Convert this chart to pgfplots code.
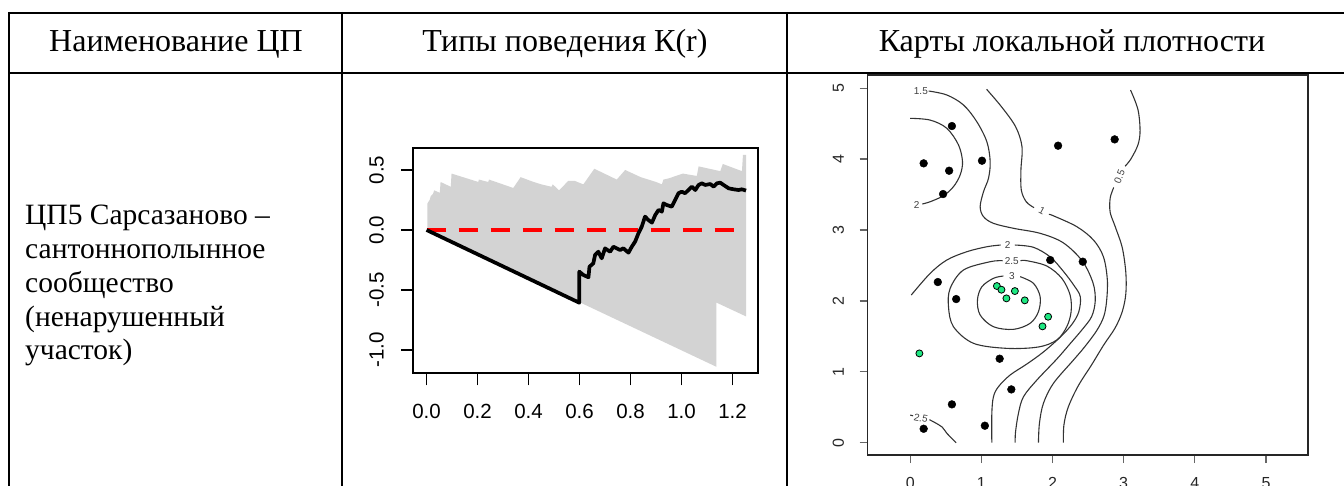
\documentclass[border=0pt]{standalone}
\usepackage{fontspec}
\setmainfont{Liberation Serif}
\newfontfamily\sansf{Liberation Sans}
\usepackage{pgfplots}
\pgfplotsset{compat=1.18}
\definecolor{envgray}{HTML}{D3D3D3}
\definecolor{ptgreen}{HTML}{1EE882}
\begin{document}
\begin{tikzpicture}[x=1pt,y=1pt]
% ---- table rules
\draw[line width=2pt] (8,-13) -- (1344,-13);
\draw[line width=1.6pt] (8,-73) -- (1344,-73);
\draw[line width=1.6pt] (9,-12) -- (9,-486);
\draw[line width=1.6pt] (342,-12) -- (342,-486);
\draw[line width=1.6pt] (787,-12) -- (787,-486);
% ---- header texts
\node[anchor=base, inner sep=0, font=\fontsize{32}{32}\selectfont] at (176,-52) {Наименование ЦП};
\node[anchor=base, inner sep=0, font=\fontsize{32}{32}\selectfont] at (565,-52) {Типы поведения К(r)};
\node[anchor=base, inner sep=0, font=\fontsize{32}{32}\selectfont] at (1072,-52) {Карты локальной плотности};
% ---- left cell
\node[anchor=base west, inner sep=0, font=\fontsize{29.5}{29.5}\selectfont] at (25,-225) {ЦП5 Сарсазаново –};
\node[anchor=base west, inner sep=0, font=\fontsize{29.5}{29.5}\selectfont] at (25,-258.7) {сантоннополынное};
\node[anchor=base west, inner sep=0, font=\fontsize{29.5}{29.5}\selectfont] at (25,-292.4) {сообщество};
\node[anchor=base west, inner sep=0, font=\fontsize{29.5}{29.5}\selectfont] at (25,-326.1) {(ненарушенный};
\node[anchor=base west, inner sep=0, font=\fontsize{29.5}{29.5}\selectfont] at (25,-359.8) {участок)};

% ---- K(r) plot
\begin{axis}[at={(413.3pt,-373.3pt)}, anchor=south west,
  width=344.7pt, height=225.3pt, scale only axis,
  xmin=-0.052, xmax=1.300, ymin=-1.194, ymax=0.683,
  axis line style={line width=1.8pt},
  tick style={line width=1.8pt, black},
  tick align=outside, major tick length=12pt, tick pos=left,
  xtick={0,0.2,0.4,0.6,0.8,1.0,1.2},
  xticklabels={0.0,0.2,0.4,0.6,0.8,1.0,1.2},
  ytick={-1,-0.5,0,0.5},
  yticklabels={-1.0,-0.5,0.0,0.5},
  ticklabel style={font=\sansf\fontsize{20.5}{20.5}\selectfont},
  yticklabel style={rotate=90, anchor=south},
  xticklabel style={anchor=north},
  xticklabel shift=15pt, yticklabel shift=14pt,
]
\addplot[fill=envgray, draw=none] coordinates {
(0.003,0.0) (0.003,0.22) (0.012,0.25) (0.016,0.28) (0.025,0.30) (0.030,0.33)
(0.052,0.31) (0.055,0.40) (0.095,0.36) (0.098,0.47) (0.203,0.40) (0.205,0.42)
(0.242,0.40) (0.245,0.42) (0.340,0.35) (0.369,0.44) (0.420,0.40) (0.450,0.38)
(0.490,0.36) (0.495,0.38) (0.520,0.33) (0.556,0.41) (0.580,0.41) (0.615,0.38)
(0.658,0.51) (0.746,0.42) (0.779,0.50) (0.840,0.44) (0.900,0.40) (0.923,0.38)
(0.929,0.42) (0.950,0.43) (1.005,0.47) (1.060,0.45) (1.067,0.53) (1.152,0.49)
(1.162,0.55) (1.237,0.49) (1.241,0.625) (1.253,0.625)
(1.253,-0.72) (1.137,-0.605) (1.137,-1.14) (0.003,-0.003)
} -- cycle;
\addplot[red, line width=3.5pt, dash pattern=on 19pt off 13pt] coordinates {(0,0) (1.253,0)};
\addplot[black, line width=3.7pt, line join=round] coordinates {
(0,0) (0.599,-0.606) (0.599,-0.347) (0.615,-0.375) (0.635,-0.394) (0.639,-0.306)
(0.654,-0.278) (0.661,-0.208) (0.674,-0.181) (0.687,-0.236) (0.700,-0.153)
(0.720,-0.181) (0.733,-0.139) (0.759,-0.167) (0.772,-0.153) (0.792,-0.189)
(0.805,-0.139) (0.818,-0.097) (0.831,-0.028) (0.844,0.028) (0.857,0.111)
(0.870,0.083) (0.884,0.061) (0.897,0.125) (0.910,0.167) (0.923,0.153)
(0.929,0.222) (0.942,0.208) (0.962,0.194) (0.975,0.250) (0.988,0.306)
(1.001,0.319) (1.014,0.306) (1.027,0.333) (1.041,0.361) (1.054,0.333)
(1.067,0.375) (1.080,0.389) (1.093,0.375) (1.113,0.383) (1.126,0.361)
(1.139,0.389) (1.152,0.394) (1.165,0.375) (1.185,0.347) (1.204,0.339)
(1.224,0.333) (1.237,0.339) (1.253,0.328)
};
\end{axis}

% ---- density map
\begin{axis}[at={(867.5pt,-455pt)}, anchor=south west,
  width=440.5pt, height=380pt, scale only axis,
  xmin=-0.6, xmax=5.59, ymin=-0.173, ymax=5.186,
  axis line style={line width=1.2pt, black!85},
  tick style={line width=1.2pt, black!60},
  tick align=outside, major tick length=8pt, tick pos=left,
  xtick={0,1,2,3,4,5}, ytick={0,1,2,3,4,5},
  xticklabels={0,1,2,3,4,5}, yticklabels={0,1,2,3,4,5},
  ticklabel style={font=\sansf\fontsize{16}{16}\selectfont, text=black!85},
  yticklabel style={rotate=90, anchor=south},
  xticklabel style={anchor=north},
  xticklabel shift=11pt, yticklabel shift=12pt,
]
\pgfplotsset{cont/.style={black!80, line width=1.1pt, smooth, tension=0.55}}
\addplot[cont] coordinates {(0.0,4.575) (0.281,4.55) (0.515,4.434) (0.679,4.199) (0.735,3.963) (0.702,3.776) (0.608,3.611) (0.468,3.484) (0.281,3.399) (0.17,3.367)};
\addplot[cont] coordinates {(0.26,4.96) (0.515,4.904) (0.749,4.763) (0.936,4.527) (1.077,4.245) (1.124,3.963) (1.1,3.729) (1.03,3.54) (0.983,3.329) (1.03,3.188) (1.17,3.094) (1.451,3.024) (1.826,2.953) (2.15,2.82) (2.42,2.56) (2.57,2.25) (2.6,2.0) (2.55,1.78) (2.42,1.6) (2.25,1.4) (2.06,1.18) (1.78,0.884) (1.592,0.649) (1.521,0.415) (1.48,0.15) (1.475,0.0)};
\addplot[cont] coordinates {(1.074,4.984) (1.282,4.739) (1.481,4.457) (1.571,4.175) (1.556,3.846) (1.561,3.564) (1.63,3.399) (1.74,3.315)};
\addplot[cont] coordinates {(1.95,3.22) (2.013,3.2) (2.341,3.047) (2.575,2.859) (2.715,2.623) (2.77,2.3) (2.76,2.0) (2.72,1.78) (2.62,1.58) (2.45,1.35) (2.294,1.166) (2.013,0.838) (1.872,0.556) (1.816,0.274) (1.802,0.0)};
\addplot[cont] coordinates {(3.096,4.974) (3.2,4.7) (3.23,4.4) (3.2,4.2) (3.1,4.0) (3.02,3.9)};
\addplot[cont] coordinates {(2.86,3.6) (2.81,3.45) (2.81,3.25) (2.88,3.05) (2.98,2.75) (3.03,2.4) (3.03,2.1) (2.98,1.85) (2.88,1.62) (2.72,1.38) (2.55,1.1) (2.36,0.8) (2.22,0.5) (2.16,0.25) (2.153,0.0)};
\addplot[cont] coordinates {(0.015,2.083) (0.281,2.389) (0.515,2.577) (0.796,2.694) (1.077,2.764) (1.27,2.788)};
\addplot[cont] coordinates {(1.47,2.788) (1.732,2.756) (1.968,2.62) (2.15,2.42) (2.3,2.22) (2.39,2.06) (2.37,1.85) (2.28,1.68) (2.12,1.5) (1.872,1.28) (1.639,1.11) (1.404,0.955) (1.24,0.79) (1.17,0.649) (1.147,0.415) (1.147,0.0)};
\addplot[cont] coordinates {(1.55,2.567) (1.639,2.567) (1.92,2.492) (2.13,2.319) (2.247,2.083) (2.261,1.848) (2.2,1.636) (2.06,1.449) (1.8,1.35) (1.358,1.331) (0.889,1.402) (0.608,1.636) (0.538,1.918) (0.562,2.178) (0.749,2.436) (1.124,2.553) (1.30,2.567)};
\addplot[cont] coordinates {(1.545,2.342) (1.732,2.248) (1.826,2.059) (1.802,1.848) (1.685,1.684) (1.451,1.599) (1.17,1.636) (0.983,1.801) (0.945,2.013) (1.007,2.2) (1.17,2.319) (1.31,2.351)};
\addplot[cont] coordinates {(0.27,0.325) (0.351,0.282) (0.45,0.22) (0.515,0.133) (0.646,0.0)};
\addplot[cont] coordinates {(0.0,0.39) (0.04,0.38)};
% contour labels
\begin{scope}[every node/.style={font=\sansf\fontsize{10}{10}\selectfont, text=black!75, inner sep=0}]
\node at (axis cs:0.15,4.96) {1.5};
\node at (axis cs:0.09,3.35) {2};
\node[rotate=-28] at (axis cs:1.85,3.27) {1};
\node[rotate=68] at (axis cs:2.94,3.75) {0.5};
\node at (axis cs:1.37,2.79) {2};
\node at (axis cs:1.428,2.567) {2.5};
\node at (axis cs:1.428,2.351) {3};
\node[rotate=-12] at (axis cs:0.15,0.345) {2.5};
\end{scope}
\addplot[only marks, mark=*, mark size=3.9pt, black] coordinates {
(0.586,4.466) (0.189,3.940) (0.547,3.836) (0.462,3.507) (1.009,3.977)
(2.078,4.189) (2.873,4.278) (1.968,2.576) (2.425,2.553) (0.388,2.266)
(0.646,2.026) (1.257,1.185) (1.421,0.752) (0.586,0.541) (1.049,0.240) (0.189,0.197)};
\addplot[only marks, mark=*, mark size=3.5pt, mark options={fill=ptgreen, draw=black, line width=0.8pt}] coordinates {
(1.218,2.210) (1.282,2.158) (1.471,2.139) (1.352,2.036) (1.610,2.008)
(1.938,1.777) (1.859,1.641) (0.129,1.260)};
\end{axis}
\pgfresetboundingbox
\path[use as bounding box] (0,0) rectangle (1344,-486);
\end{tikzpicture}
\end{document}
